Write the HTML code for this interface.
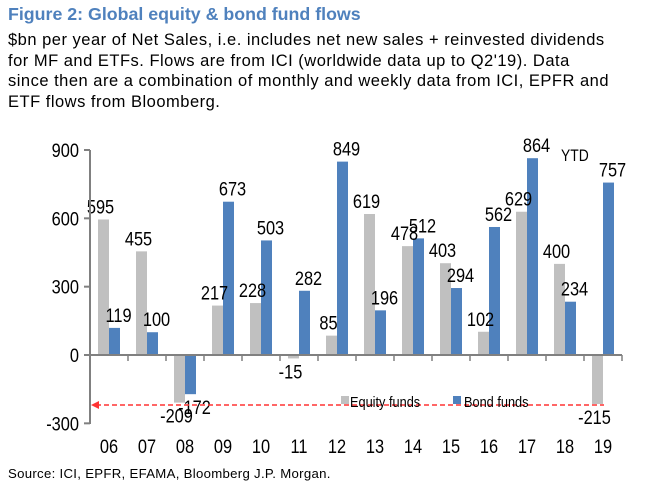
<!DOCTYPE html>
<html><head><meta charset="utf-8"><style>
body{margin:0;background:#fff;width:659px;height:491px;overflow:hidden;font-family:"Liberation Sans",sans-serif}
.t{position:absolute;left:8px;top:4px;color:#4f81bd;font-weight:bold;font-size:17.8px}
.d{position:absolute;left:8px;top:30px;font-size:16.5px;letter-spacing:0.5px;line-height:20.5px;color:#000;width:655px;white-space:nowrap}
.s{position:absolute;left:8px;top:466px;font-size:13.2px;letter-spacing:0.3px;color:#000}
svg{position:absolute;left:0;top:0}
</style></head><body>
<div class="t">Figure 2: Global equity &amp; bond fund flows</div>
<div class="d">$bn per year of Net Sales, i.e. includes net new sales + reinvested dividends<br>for MF and ETFs. Flows are from ICI (worldwide data up to Q2'19). Data<br>since then are a combination of monthly and weekly data from ICI, EPFR and<br>ETF flows from Bloomberg.</div>
<div class="s">Source:  ICI, EPFR, EFAMA, Bloomberg J.P. Morgan.</div>
<svg id="c" width="659" height="491"></svg>
<script>
const categories=["06","07","08","09","10","11","12","13","14","15","16","17","18","19"];
const equity=[595,455,-209,217,228,-15,85,619,478,403,102,629,400,-215];
const bond=[119,100,-172,673,503,282,849,196,512,294,562,864,234,757];
const yTicks=[900,600,300,0,-300];
const svg=document.getElementById('c');const NS='http://www.w3.org/2000/svg';
const x0=90,cw=38,bw=11;
const y=v=>355-v*205/900;
const fnt='"Liberation Sans",sans-serif';
function mk(t,a,txt){const e=document.createElementNS(NS,t);for(const k in a)e.setAttribute(k,a[k]);if(txt!==undefined)e.textContent=txt;svg.appendChild(e);return e;}
function tx(x,yy,anchor,size,txt){return mk('text',{transform:'translate('+x+','+yy+') scale(0.84,1)','text-anchor':anchor,'font-size':size,'font-family':fnt},txt);}
yTicks.forEach(v=>{
const l=mk('line',{x1:84,x2:90,y1:y(v),y2:y(v),stroke:'#808080','stroke-width':2});


const t=tx(79,y(v)+7,'end',19.5,v);


});
categories.forEach((c,i)=>{
const cx=x0+cw*i+cw/2;
const ex=cx-bw,bx=cx;
const e=mk('rect',{x:ex,y:Math.min(y(0),y(equity[i])),width:bw,height:Math.abs(y(equity[i])-y(0)),fill:'#c0c0c0'});


const b=mk('rect',{x:bx,y:Math.min(y(0),y(bond[i])),width:bw,height:Math.abs(y(bond[i])-y(0)),fill:'#4f81bd'});


const ey=equity[i]>=0?y(equity[i])-6:y(equity[i])+20;
const el=tx(ex+bw/2-3,ey,'middle',19.5,equity[i]);


const by=bond[i]>=0?y(bond[i])-6:y(bond[i])+20;
const bl=tx(bx+bw/2+4,by,'middle',19.5,bond[i]);


const xl=tx(cx,453,'middle',19.5,c);


const tk=mk('line',{x1:x0+cw*(i+1),x2:x0+cw*(i+1),y1:355,y2:361,stroke:'#808080','stroke-width':1.5});


});
const ax=mk('line',{x1:90,x2:90,y1:150,y2:424,stroke:'#808080','stroke-width':2});


const xa=mk('line',{x1:84,x2:622,y1:355,y2:355,stroke:'#808080','stroke-width':2});


const rl=mk('line',{x1:96,x2:604,y1:405,y2:405,stroke:'#ff3333','stroke-width':1.5,'stroke-dasharray':'5,3'});


const ah=mk('polygon',{points:'91,405 99,401 99,409',fill:'#ff3333'});


const ytd=tx(561,161,'start',16.5,'YTD');


const lg1=mk('rect',{x:341,y:396,width:8,height:8,fill:'#c0c0c0'});


const lt1=tx(350,407,'start',15.2,'Equity funds');


const lg2=mk('rect',{x:453,y:396,width:8,height:8,fill:'#4f81bd'});


const lt2=tx(464,407,'start',15.2,'Bond funds');


</script>
</body></html>
